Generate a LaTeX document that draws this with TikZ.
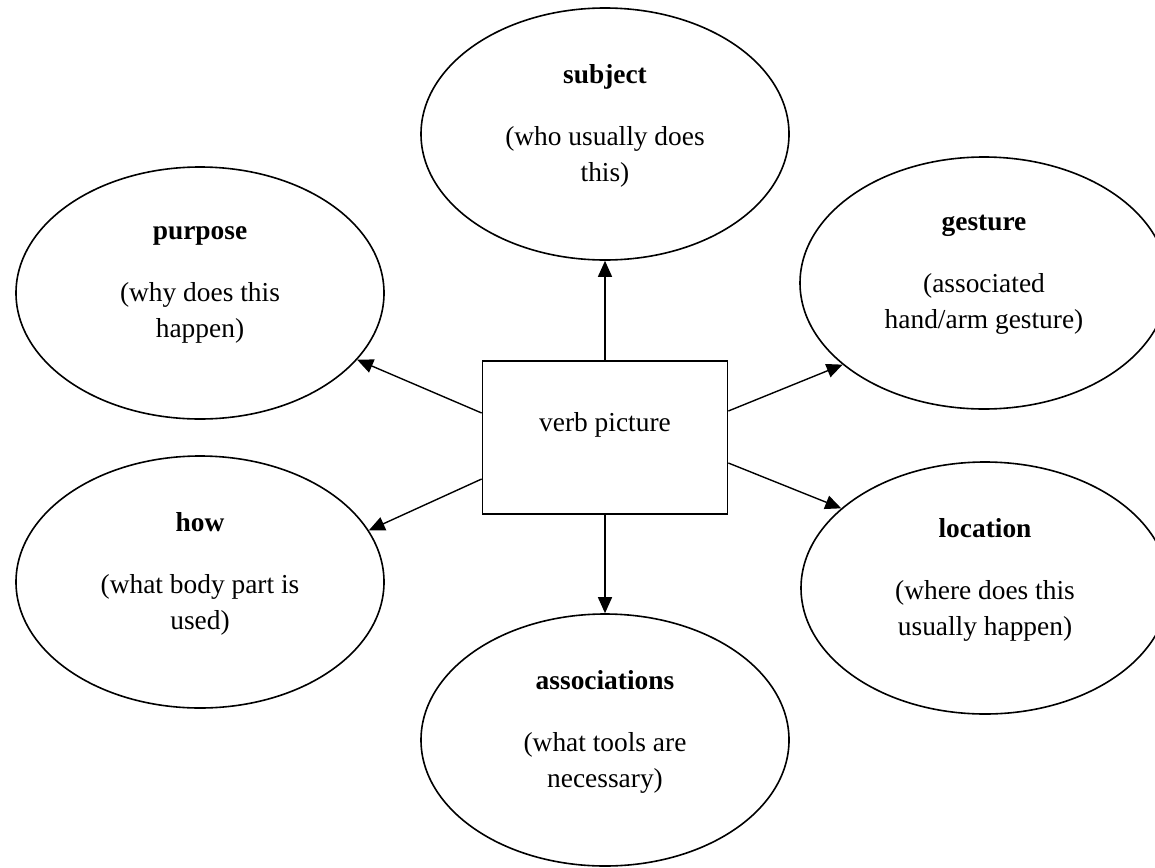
\documentclass[tikz,border=0pt]{standalone}
\usepackage{fontspec}
\setmainfont{Liberation Serif}
\usepackage{tikz}
\usetikzlibrary{positioning,arrows.meta,shapes.geometric}
\tikzset{
  >={Triangle[length=8pt,width=7pt]},
  soval/.style={ellipse,draw,line width=0.8pt,minimum width=184pt,
               minimum height=126pt,inner sep=0pt},
  stxt/.style ={align=center,inner sep=0pt,font=\fontsize{13.7}{18}\selectfont},
  sbox/.style ={rectangle,draw,line width=0.85pt,minimum width=122.5pt,
               minimum height=76.5pt,inner sep=0pt},
  sar/.style  ={->,line width=0.7pt},
}
\begin{document}
\begin{tikzpicture}[x=0.5pt,y=-0.5pt]
        \useasboundingbox (0,0) rectangle (1155,867);
        \node[sbox] (verb) at (605,437.5) {};
        \node[stxt] (verbtxt) at ([yshift=6.5pt]verb.center) {verb picture};
        \node[soval] (subject) at (605,134) {};
        \node[soval] (purpose) at (200,293) {};
        \node[soval] (gesture) at (984,283) {};
        \node[soval] (how) at (200,582) {};
        \node[soval] (location) at (985,588) {};
        \node[soval] (assoc) at (605,740) {};
        \node[stxt] (subjecttxt) at ([yshift=4.25pt]subject.center)
          {\textbf{subject}\\[13pt](who usually does\\this)};
        \node[stxt] (purposetxt) at ([yshift=4.25pt]purpose.center)
          {\textbf{purpose}\\[13pt](why does this\\happen)};
        \node[stxt] (gesturetxt) at ([yshift=4.25pt]gesture.center)
          {\textbf{gesture}\\[13pt](associated\\hand/arm gesture)};
        \node[stxt] (howtxt) at ([yshift=4.25pt]how.center)
          {\textbf{how}\\[13pt](what body part is\\used)};
        \node[stxt] (locationtxt) at ([yshift=4.25pt]location.center)
          {\textbf{location}\\[13pt](where does this\\usually happen)};
        \node[stxt] (assoctxt) at ([yshift=4.25pt]assoc.center)
          {\textbf{associations}\\[13pt](what tools are\\necessary)};
        \draw[sar] (verb.north) -- (subject.south);
        \draw[sar] (verb.south) -- (assoc.north);
        \draw[sar] ([yshift=12.25pt]verb.west) -- (purpose.-23.4);
        \draw[sar] ([yshift=-20.75pt]verb.west) -- (how.17.1);
        \draw[sar] ([yshift=13.25pt]verb.east) -- (gesture.210);
        \draw[sar] ([yshift=-12.75pt]verb.east) -- (location.151.5);
      \end{tikzpicture}
\end{document}
